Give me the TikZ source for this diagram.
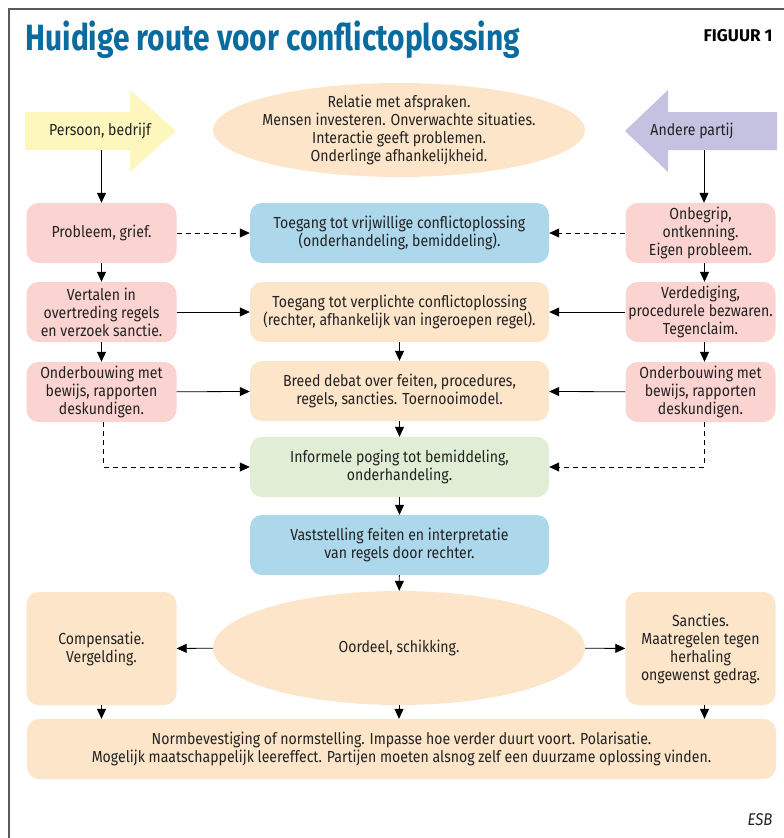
\documentclass[tikz,border=0pt]{standalone}
\usepackage{fontspec}
\setmainfont{Fira Sans}[FakeStretch=0.88]
\newfontfamily\titlefont{Fira Sans}[FakeStretch=0.82]
\newfontfamily\figfont{Fira Sans}
\usetikzlibrary{arrows.meta,shapes.geometric}
\definecolor{pinkfill}{HTML}{FBD4D2}
\definecolor{bluefill}{HTML}{ADD8EC}
\definecolor{orangefill}{HTML}{FDE5C9}
\definecolor{greenfill}{HTML}{E0EED5}
\definecolor{yellowfill}{HTML}{FDF7BE}
\definecolor{purplefill}{HTML}{C5C1E1}
\definecolor{titleblue}{HTML}{0A6B9E}
\definecolor{framegray}{HTML}{5A5A5A}
\definecolor{textgray}{HTML}{222222}
\tikzset{ b/.style = { rectangle % box
        , rounded corners = 12pt
        , minimum height = 60pt
        , align = center
        , inner sep = 2pt
        , text = textgray
        , font = \fontsize{16}{18}\selectfont
        }
        , side/.style = { b % side column
        , minimum width = 150pt
        , fill = pinkfill
        }
        , mid/.style = { b % middle column
        , minimum width = 299pt
        }
        , e/.style = { ellipse % oval
        , fill = orangefill
        , inner sep = 0pt
        }
        }

\begin{document}
\begin{tikzpicture}[x=1pt, y=-1pt,
        txt_style/.style={align=center,text=textgray,font=\fontsize{16}{18}\selectfont},
        edge_style/.style={draw=black, line width=0.8pt,-{Triangle[length=10pt,width=9pt]}},
        dash_edge_style/.style={edge_style, dash pattern=on 5pt off 4pt}]
        \useasboundingbox (0,0) rectangle (784,838);
        \draw [framegray, line width=1.6pt] (9,838) -- (9,9) -- (784,9);

        \node [anchor=base west,text=titleblue,font=\titlefont\bfseries\fontsize{36.5}{40}\selectfont](title) at (22,50) {Huidige route voor conflictoplossing};
        \node [anchor=base east,text=black,font=\figfont\bfseries\fontsize{17}{18}\selectfont](fig) at (776,41) {FIGUUR 1};

        % the two parties
        \fill [yellowfill] (25,112) -- (130,112) -- (130,90) -- (176,131) -- (130,172) -- (130,150) -- (25,150) -- cycle;
        \fill [purplefill] (777,112) -- (668,112) -- (668,90) -- (625,131) -- (668,172) -- (668,150) -- (777,150) -- cycle;
        \node [txt_style](pA) at (100,131) {Persoon, bedrijf};
        \node [txt_style](pB) at (692,131) {Andere partij};
        \coordinate (pA_foot) at (101.5,150);
        \coordinate (pB_foot) at (704,150);
        \node [e,minimum width=372pt,minimum height=94pt](n0) at (399,130) {};
        \node [txt_style] at (n0) {Relatie met afspraken.\\Mensen investeren. Onverwachte situaties.\\Interactie geeft problemen.\\Onderlinge afhankelijkheid.};

        \node [side](nL1) at (101.5,233) {Probleem, grief.};
        \node [side](nL2) at (101.5,312) {Vertalen in\\overtreding regels\\en verzoek sanctie.};
        \node [side](nL3) at (101.5,392) {Onderbouwing met\\bewijs, rapporten\\deskundigen.};
        \node [side](nR1) at (700.5,233) {Onbegrip,\\ontkenning.\\Eigen probleem.};
        \node [side](nR2) at (700.5,312) {Verdediging,\\procedurele bezwaren.\\Tegenclaim.};
        \node [side](nR3) at (700.5,392) {Onderbouwing met\\bewijs, rapporten\\deskundigen.};

        \node [mid,fill=bluefill](n1) at (399.5,233) {Toegang tot vrijwillige conflictoplossing\\(onderhandeling, bemiddeling).};
        \node [mid,fill=orangefill](n2) at (399.5,312) {Toegang tot verplichte conflictoplossing\\(rechter, afhankelijk van ingeroepen regel).};
        \node [mid,fill=orangefill](n3) at (399.5,391) {Breed debat over feiten, procedures,\\regels, sancties. Toernooimodel.};
        \node [mid,fill=greenfill](n4) at (399.5,467) {Informele poging tot bemiddeling,\\onderhandeling.};
        \node [mid,fill=bluefill](n5) at (399.5,545) {Vaststelling feiten en interpretatie\\van regels door rechter.};

        \node [e,minimum width=372pt,minimum height=114pt](n6) at (399,648) {};
        \node [txt_style] at (n6) {Oordeel, schikking.};
        \node [side,fill=orangefill,minimum height=113pt](nL6) at (101.5,648.5) {Compensatie.\\Vergelding.};
        \node [side,fill=orangefill,minimum height=113pt](nR6) at (700.5,648.5) {Sancties.\\Maatregelen tegen\\herhaling\\ongewenst gedrag.};
        \node [b,fill=orangefill,minimum width=749pt](n7) at (401.5,749) {Normbevestiging of normstelling. Impasse hoe verder duurt voort. Polarisatie.\\Mogelijk maatschappelijk leereffect. Partijen moeten alsnog zelf een duurzame oplossing vinden.};
        \node [anchor=base east,text=textgray,font=\itshape\fontsize{17}{18}\selectfont](esb) at (776,825) {ESB};

        \draw [edge_style] (pA_foot) -- (pA_foot |- nL1.north);
        \draw [edge_style] (pB_foot) -- (pB_foot |- nR1.north);
        \draw [edge_style] (nL1) -- (nL2);
        \draw [edge_style] (nL2) -- (nL3);
        \draw [edge_style] ([xshift=4pt]nR1.south) -- ([xshift=4pt]nR2.north);
        \draw [edge_style] ([xshift=4pt]nR2.south) -- ([xshift=4pt]nR3.north);
        \draw [dash_edge_style] (nL1) -- (n1);
        \draw [dash_edge_style] (nR1) -- (n1);
        \draw [edge_style] (nL2) -- (n2);
        \draw [edge_style] (nR2) -- (n2);
        \draw [edge_style] (nL3) -- (n3);
        \draw [edge_style] (nR3) -- (n3);
        \draw [edge_style] (n2) -- (n3);
        \draw [edge_style] (n3) -- (n4);
        \draw [edge_style] (n4) -- (n5);
        \draw [edge_style] (n5) -- (n6);
        \draw [dash_edge_style] ([xshift=2pt]nL3.south) |- (n4.west);
        \draw [dash_edge_style] ([xshift=4pt]nR3.south) |- (n4.east);
        \draw [edge_style] (n6) -- (nL6);
        \draw [edge_style] (n6) -- (nR6);
        \draw [edge_style] (nL6) -- (nL6 |- n7.north);
        \draw [edge_style] (n6) -- (n6 |- n7.north);
        \draw [edge_style] ([xshift=4pt]nR6.south) -- ([xshift=4pt]nR6.south |- n7.north);
\end{tikzpicture}
\end{document}
